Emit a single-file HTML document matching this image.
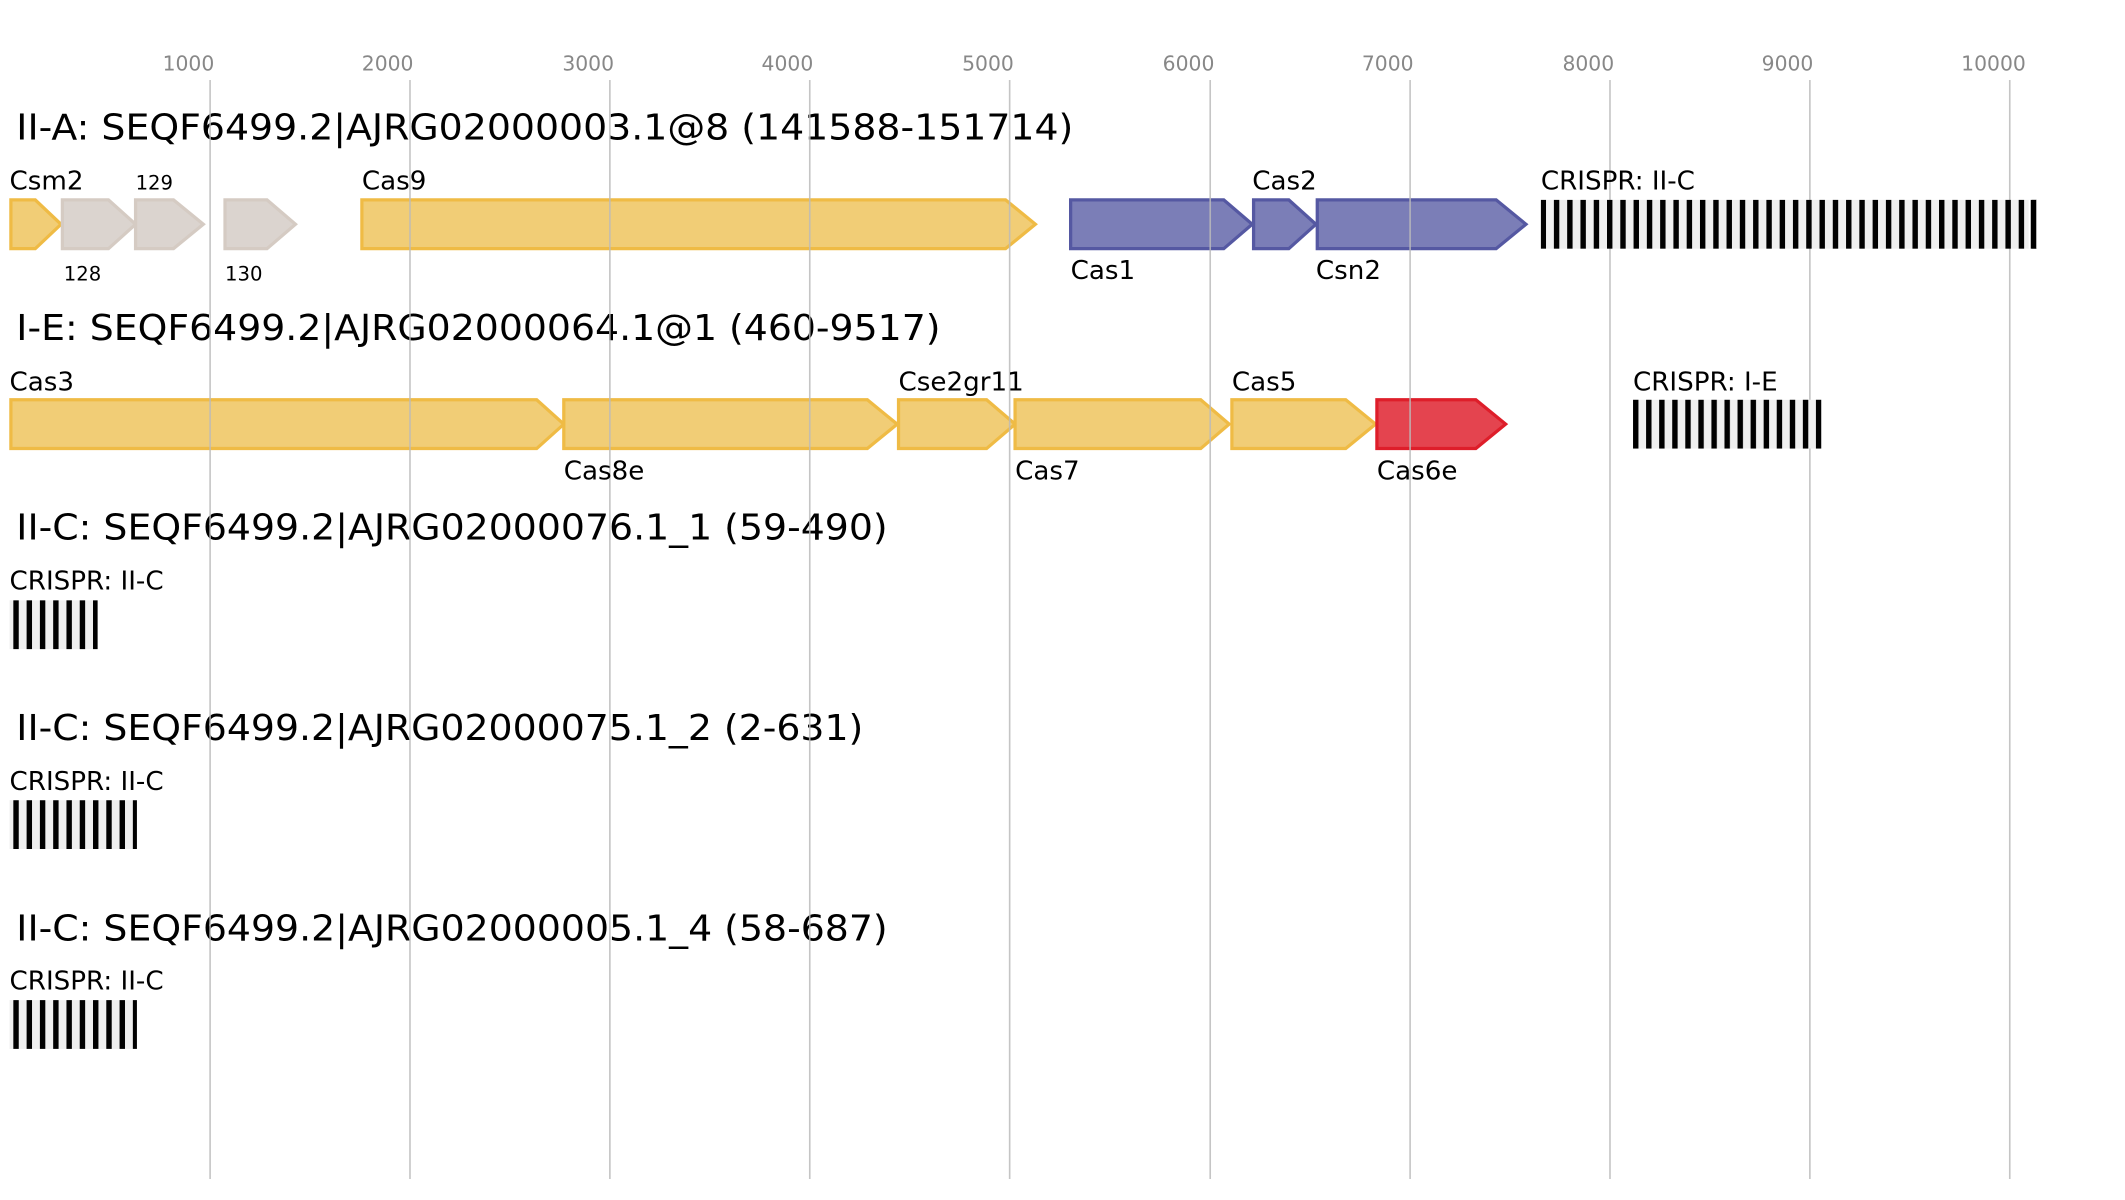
<!DOCTYPE html>
<html><head><meta charset="utf-8"><style>html,body{margin:0;padding:0;background:#fff}svg{display:block}</style></head>
<body>
<svg width="2125" height="1200" viewBox="0 0 1568 885.5" xmlns="http://www.w3.org/2000/svg" font-family="DejaVu Sans, Liberation Sans, sans-serif">
<defs>
<pattern id="cr" x="0" y="0" width="9.8" height="10" patternUnits="userSpaceOnUse">
<rect x="0" y="0" width="9.8" height="10" fill="#efefef"/><rect x="0" y="0" width="4" height="10" fill="#000"/>
</pattern>
<pattern id="cr2" x="1205" y="0" width="9.64" height="10" patternUnits="userSpaceOnUse">
<rect x="0" y="0" width="9.64" height="10" fill="#efefef"/><rect x="0" y="0" width="4" height="10" fill="#000"/>
</pattern>
</defs>
<g fill="#888" font-size="15" text-anchor="middle">
<text x="139" y="52">1000</text><text x="286" y="52">2000</text><text x="434" y="52">3000</text><text x="581" y="52">4000</text><text x="729" y="52">5000</text><text x="877" y="52">6000</text><text x="1024" y="52">7000</text><text x="1172" y="52">8000</text><text x="1319" y="52">9000</text><text x="1471" y="52">10000</text>
</g>
<g font-size="26" fill="#000">
<text x="12" y="103" textLength="780" lengthAdjust="spacingAndGlyphs">II-A: SEQF6499.2|AJRG02000003.1@8 (141588-151714)</text>
<text x="12" y="251" textLength="682" lengthAdjust="spacingAndGlyphs">I-E: SEQF6499.2|AJRG02000064.1@1 (460-9517)</text>
<text x="12" y="398" textLength="643" lengthAdjust="spacingAndGlyphs">II-C: SEQF6499.2|AJRG02000076.1_1 (59-490)</text>
<text x="12" y="546" textLength="625" lengthAdjust="spacingAndGlyphs">II-C: SEQF6499.2|AJRG02000075.1_2 (2-631)</text>
<text x="12" y="694" textLength="643" lengthAdjust="spacingAndGlyphs">II-C: SEQF6499.2|AJRG02000005.1_4 (58-687)</text>
</g>
<g stroke-width="2.4">
<g fill="#f1cd76" stroke="#efbb45">
<polygon points="8,147.5 26,147.5 45,165.5 26,183.5 8,183.5"/>
<polygon points="267,147.5 742,147.5 764,165.5 742,183.5 267,183.5"/>
<polygon points="8,295 396,295 416,313 396,331 8,331"/>
<polygon points="416,295 640,295 662,313 640,331 416,331"/>
<polygon points="663,295 728,295 749,313 728,331 663,331"/>
<polygon points="749,295 886,295 907,313 886,331 749,331"/>
<polygon points="909,295 993,295 1015,313 993,331 909,331"/>
</g>
<g fill="#dbd4cf" stroke="#d5cbc3">
<polygon points="46,147.5 80,147.5 100,165.5 80,183.5 46,183.5"/>
<polygon points="100,147.5 128,147.5 150,165.5 128,183.5 100,183.5"/>
<polygon points="166,147.5 197,147.5 218,165.5 197,183.5 166,183.5"/>
</g>
<g fill="#7b7eb7" stroke="#5558a2">
<polygon points="790,147.5 903,147.5 924,165.5 903,183.5 790,183.5"/>
<polygon points="925,147.5 951,147.5 971,165.5 951,183.5 925,183.5"/>
<polygon points="972,147.5 1104,147.5 1126,165.5 1104,183.5 972,183.5"/>
</g>
<polygon fill="#e4444f" stroke="#de1e2a" points="1016,295 1089,295 1111,313 1089,331 1016,331"/>
</g>
<g stroke="#bbb" stroke-width="1.2" opacity="0.85">
<line x1="155" y1="59" x2="155" y2="870"/><line x1="302.5" y1="59" x2="302.5" y2="870"/><line x1="450" y1="59" x2="450" y2="870"/><line x1="597.5" y1="59" x2="597.5" y2="870"/><line x1="745" y1="59" x2="745" y2="870"/><line x1="893" y1="59" x2="893" y2="870"/><line x1="1040.5" y1="59" x2="1040.5" y2="870"/><line x1="1188" y1="59" x2="1188" y2="870"/><line x1="1335.5" y1="59" x2="1335.5" y2="870"/><line x1="1483" y1="59" x2="1483" y2="870"/>
</g>
<rect x="1137" y="147.5" width="366" height="36" fill="url(#cr)"/>
<rect x="1497" y="147.5" width="6" height="36" fill="#fff"/><rect x="1498.5" y="147.5" width="4" height="36" fill="#000"/>
<rect x="1205" y="295" width="139" height="36" fill="url(#cr2)"/>
<rect x="7" y="443" width="65" height="36" fill="url(#cr)"/>
<rect x="7" y="590.5" width="94" height="36" fill="url(#cr)"/>
<rect x="7" y="738" width="94" height="36" fill="url(#cr)"/>
<g font-size="19.3" fill="#000">
<text x="7" y="140">Csm2</text><text x="267" y="140">Cas9</text><text x="790" y="206">Cas1</text><text x="924" y="140">Cas2</text><text x="971" y="206">Csn2</text><text x="1137" y="140">CRISPR: II-C</text>
<text x="7" y="288">Cas3</text><text x="416" y="354">Cas8e</text><text x="663" y="288">Cse2gr11</text><text x="749" y="354">Cas7</text><text x="909" y="288">Cas5</text><text x="1016" y="354">Cas6e</text><text x="1205" y="288">CRISPR: I-E</text>
<text x="7" y="435">CRISPR: II-C</text><text x="7" y="583">CRISPR: II-C</text><text x="7" y="730">CRISPR: II-C</text>
</g>
<g font-size="14.5" fill="#000">
<text x="100" y="140">129</text><text x="47" y="207">128</text><text x="166" y="207">130</text>
</g>
</svg>
</body></html>
